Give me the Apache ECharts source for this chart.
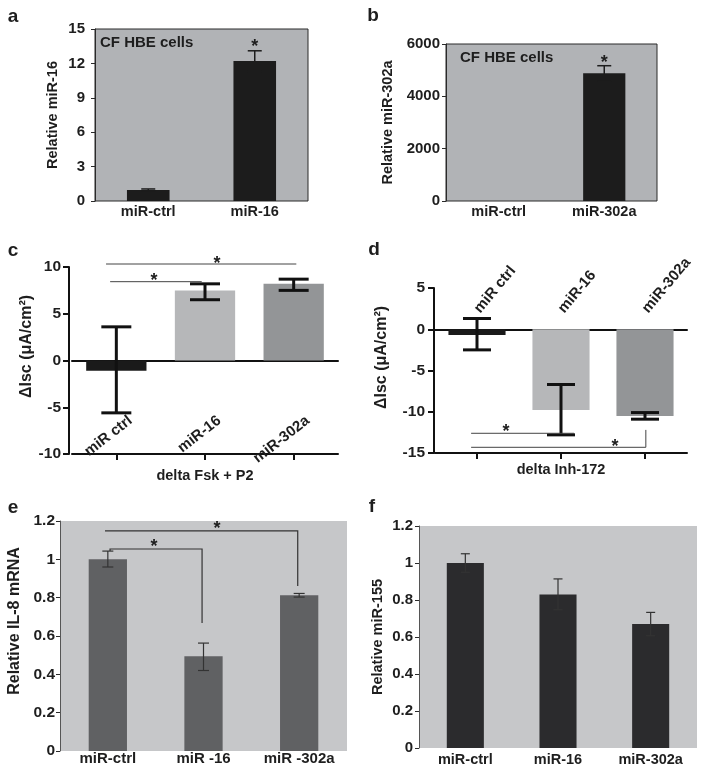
<!DOCTYPE html>
<html><head><meta charset="utf-8">
<script src="https://cdn.jsdelivr.net/npm/echarts@6/dist/echarts.min.js"></script>
<style>html,body{margin:0;padding:0;background:#fff}#chart{width:704px;height:776px}</style>
</head><body><div id="chart"></div>
<script>
// ---------- DATA ----------
// panel a
const aCats = ['miR-ctrl', 'miR-16'];
const aVals = [0.96, 12.2];
const aErrLow = [0.88, 11.3];
const aErrHigh = [1.05, 13.1];
const aStars = [[1, 13.8]];
const aRange = [0, 15, 3];
// panel b
const bCats = ['miR-ctrl', 'miR-302a'];
const bVals = [0, 4880];
const bErrLow = [0, 4590];
const bErrHigh = [0, 5170];
const bStars = [[1, 5430]];
const bRange = [0, 6000, 2000];
// panel c
const cCats = ['miR ctrl', 'miR-16', 'miR-302a'];
const cVals = [-1.1, 7.5, 8.2];
const cErrLow = [-5.6, 6.5, 7.5];
const cErrHigh = [3.6, 8.2, 8.7];
const cBrackets = [[-0.116, 2.03, 10.32, 10.32, 10.32], [-0.07, 0.963, 8.43, 8.43, 8.43]];
const cStars = [[1.136, 10.75], [0.425, 8.93]];
const cRange = [-10, 10, 5];
// panel d
const dCats = ['miR ctrl', 'miR-16', 'miR-302a'];
const dVals = [-0.7, -9.8, -10.5];
const dErrLow = [-2.5, -12.8, -10.9];
const dErrHigh = [1.3, -6.7, -10.1];
const dBrackets = [[-0.07, 1.155, -12.61, -12.61, -12.61], [-0.07, 2.01, -14.31, -14.31, -12.2]];
const dStars = [[0.345, -11.97], [1.643, -13.75]];
const dRange = [-15, 5, 5];
// panel e
const eCats = ['miR-ctrl', 'miR -16', 'miR -302a'];
const eVals = [1.0, 0.494, 0.812];
const eErrLow = [0.96, 0.42, 0.803];
const eErrHigh = [1.043, 0.563, 0.822];
const eBrackets = [[0.023, 0.985, 1.054, 1.043, 0.668], [-0.03, 1.985, 1.149, 1.149, 0.861]];
const eStars = [[0.483, 1.087], [1.14, 1.179]];
const eRange = [0, 1.2, 0.2];
// panel f
const fCats = ['miR-ctrl', 'miR-16', 'miR-302a'];
const fVals = [1.0, 0.83, 0.67];
const fErrLow = [0.95, 0.747, 0.607];
const fErrHigh = [1.05, 0.914, 0.733];
const fRange = [0, 1.2, 0.2];

// ---------- STYLE ----------
const FONT = '"Liberation Sans", Arial, sans-serif';
const TXT = '#1e1e1e';
const chart = echarts.init(document.getElementById('chart'), null, {renderer: 'canvas'});

function errRender(capW, lw, color) {
  return function (params, api) {
    const x = api.value(0), lo = api.value(1), hi = api.value(2);
    if (hi === lo) return null;
    const pH = api.coord([x, hi]), pL = api.coord([x, lo]);
    const h = capW / 2;
    const st = {stroke: color, lineWidth: lw};
    return {type: 'group', children: [
      {type: 'line', shape: {x1: pH[0], y1: pH[1], x2: pL[0], y2: pL[1]}, style: st},
      {type: 'line', shape: {x1: pH[0] - h, y1: pH[1], x2: pH[0] + h, y2: pH[1]}, style: st},
      {type: 'line', shape: {x1: pL[0] - h, y1: pL[1], x2: pL[0] + h, y2: pL[1]}, style: st}
    ]};
  };
}
function bracketRender(color, lw) {
  return function (params, api) {
    const x1 = api.value(0), x2 = api.value(1), y = api.value(2), d1 = api.value(3), d2 = api.value(4);
    const pts = [api.coord([x1, d1]), api.coord([x1, y]), api.coord([x2, y]), api.coord([x2, d2])];
    return {type: 'polyline', shape: {points: pts}, style: {stroke: color, lineWidth: lw, fill: 'none'}};
  };
}
function starRender(fs) {
  return function (params, api) {
    const p = api.coord([api.value(0), api.value(1)]);
    return {type: 'text', x: p[0], y: p[1] + fs * 0.22,
      style: {text: '*', fontSize: fs, fontWeight: 'bold', fontFamily: FONT, fill: TXT, align: 'center', verticalAlign: 'middle'}};
  };
}
function errData(lo, hi) { return lo.map((v, i) => [i, v, hi[i]]); }

const grayBoxA = {show: true, backgroundColor: '#b1b3b6', borderColor: '#2a2a2a', borderWidth: 1};
const grayBoxE = {show: true, backgroundColor: '#c6c7c9', borderWidth: 0};
const grids = [
  Object.assign({left: 95, top: 29, width: 213, height: 172}, grayBoxA),
  Object.assign({left: 446, top: 44, width: 211, height: 157}, grayBoxA),
  {left: 72, top: 267, width: 266, height: 187},
  {left: 435, top: 288, width: 252, height: 165},
  Object.assign({left: 60, top: 521, width: 287, height: 230}, grayBoxE),
  Object.assign({left: 419, top: 526, width: 278, height: 222}, grayBoxE)
].map(g => Object.assign({outerBoundsMode: 'none', containLabel: false}, g));

const lblFont = (fs) => ({fontSize: fs, fontWeight: 'bold', fontFamily: FONT, color: TXT});

function catAxisSimple(grid, cats, margin, fs) {
  return {type: 'category', gridIndex: grid, data: cats, axisLine: {show: false}, axisTick: {show: false},
    axisLabel: Object.assign({margin: margin, interval: 0}, lblFont(fs))};
}
function hiddenX(grid, n) {
  return {type: 'value', gridIndex: grid, min: -0.5, max: n - 0.5, show: false};
}
function valAxis(grid, rng, name, nameGap, nameFs, lblFs, lblMargin, opts, namePad) {
  return Object.assign({
    type: 'value', gridIndex: grid, min: rng[0], max: rng[1], interval: rng[2],
    axisLine: {show: true, onZero: false, lineStyle: {color: '#2a2a2a', width: 1}},
    axisTick: {show: true, length: 4, lineStyle: {color: '#2a2a2a', width: 1}},
    splitLine: {show: false},
    axisLabel: Object.assign({margin: lblMargin, formatter: (v) => String(v)}, lblFont(lblFs)),
    name: name, nameLocation: 'middle', nameGap: nameGap,
    nameTextStyle: Object.assign({padding: [0, 0, 0, namePad || 0]}, lblFont(nameFs))
  }, opts || {});
}

const xAxes = [
  catAxisSimple(0, aCats, 3, 14.5),               // 0
  catAxisSimple(1, bCats, 3, 14.5),               // 1
  { // 2 c bottom
    type: 'category', gridIndex: 2, data: cCats, position: 'bottom',
    axisLine: {onZero: false, lineStyle: {color: '#111', width: 2}},
    axisTick: {show: true, alignWithLabel: true, length: 6, lineStyle: {color: '#111', width: 2}},
    axisLabel: Object.assign({inside: true, rotate: 38, align: 'right', verticalAlign: 'middle', margin: 24,
      padding: [0, -18, 0, 0], interval: 0}, lblFont(15)),
    name: 'delta Fsk + P2', nameLocation: 'middle', nameGap: 9, nameTextStyle: lblFont(14.5)
  },
  { // 3 c zero line
    type: 'category', gridIndex: 2, data: cCats, position: 'top',
    axisLine: {onZero: true, lineStyle: {color: '#111', width: 2}},
    axisTick: {show: false}, axisLabel: {show: false}
  },
  { // 4 d bottom, labels drawn inside above the zero line
    type: 'category', gridIndex: 3, data: dCats, position: 'bottom',
    axisLine: {onZero: false, lineStyle: {color: '#111', width: 2}},
    axisTick: {show: true, alignWithLabel: true, length: 6, lineStyle: {color: '#111', width: 2}},
    axisLabel: Object.assign({inside: true, rotate: 50, align: 'left', verticalAlign: 'middle', margin: 142, interval: 0}, lblFont(15)),
    name: 'delta Inh-172', nameLocation: 'middle', nameGap: 9, nameTextStyle: lblFont(14.5)
  },
  { // 5 d zero line
    type: 'category', gridIndex: 3, data: dCats, position: 'top',
    axisLine: {onZero: true, lineStyle: {color: '#111', width: 2}},
    axisTick: {show: false}, axisLabel: {show: false}
  },
  catAxisSimple(4, eCats, 0, 15),                 // 6
  catAxisSimple(5, fCats, 4, 14.5),               // 7
  hiddenX(0, 2), hiddenX(1, 2), hiddenX(2, 3), hiddenX(3, 3), hiddenX(4, 3) // 8..12
];

const yAxes = [
  valAxis(0, aRange, 'Relative miR-16', 35, 14.5, 15, 10),
  valAxis(1, bRange, 'Relative miR-302a', 51, 14.5, 15, 6),
  valAxis(2, cRange, 'ΔIsc (μA/cm²)', 31, 16, 15.5, 8, {offset: 3,
    axisLine: {show: true, onZero: false, lineStyle: {color: '#111', width: 2}},
    axisTick: {show: true, length: 6, lineStyle: {color: '#111', width: 2}}}, 28),
  valAxis(3, dRange, 'ΔIsc (μA/cm²)', 44, 16, 15.5, 9, {offset: 1,
    axisLine: {show: true, onZero: false, lineStyle: {color: '#111', width: 2}},
    axisTick: {show: true, length: 6, lineStyle: {color: '#111', width: 2}}}, 26),
  valAxis(4, eRange, 'Relative IL-8 mRNA', 37, 16, 15.5, 5, {
    axisLine: {show: true, onZero: false, lineStyle: {color: '#555', width: 1}}}, 30),
  valAxis(5, fRange, 'Relative miR-155', 34, 14.5, 15, 6, {
    axisLine: {show: true, onZero: false, lineStyle: {color: '#555', width: 1}}})
];

const cColors = ['#1a1a1a', '#b6b7b9', '#939597'];
const dColors = ['#1a1a1a', '#b6b7b9', '#939597'];

function bar(xi, yi, vals, width, color, colors) {
  return {type: 'bar', xAxisIndex: xi, yAxisIndex: yi, barWidth: width, animation: false,
    data: vals.map((v, i) => ({value: v, itemStyle: {color: colors ? colors[i] : color}}))};
}
function err(xi, yi, lo, hi, capW, lw, color) {
  return {type: 'custom', xAxisIndex: xi, yAxisIndex: yi, clip: false, animation: false, z: 5,
    renderItem: errRender(capW, lw, color), data: errData(lo, hi), encode: {x: 0, y: [1, 2]}};
}
function brackets(xi, yi, data, color, lw) {
  return {type: 'custom', xAxisIndex: xi, yAxisIndex: yi, clip: false, animation: false, z: 6,
    renderItem: bracketRender(color, lw), data: data, encode: {x: [0, 1], y: 2}};
}
function stars(xi, yi, data, fs) {
  return {type: 'custom', xAxisIndex: xi, yAxisIndex: yi, clip: false, animation: false, z: 7,
    renderItem: starRender(fs), data: data, encode: {x: 0, y: 1}};
}

const series = [
  bar(0, 0, aVals, '40%', '#1c1c1c'),
  err(0, 0, aErrLow, aErrHigh, 14, 1.5, '#1c1c1c'),
  stars(8, 0, aStars, 18),
  bar(1, 1, bVals, '40%', '#1c1c1c'),
  err(1, 1, bErrLow, bErrHigh, 14, 1.5, '#1c1c1c'),
  stars(9, 1, bStars, 18),
  bar(2, 2, cVals, '68%', null, cColors),
  err(2, 2, cErrLow, cErrHigh, 30, 3, '#111'),
  brackets(10, 2, cBrackets, '#444', 1),
  stars(10, 2, cStars, 18),
  bar(4, 3, dVals, '68%', null, dColors),
  err(4, 3, dErrLow, dErrHigh, 28, 3, '#111'),
  brackets(11, 3, dBrackets, '#444', 1),
  stars(11, 3, dStars, 18),
  bar(6, 4, eVals, '40%', '#606163'),
  err(6, 4, eErrLow, eErrHigh, 11, 1.2, '#333'),
  brackets(12, 4, eBrackets, '#333', 1.2),
  stars(12, 4, eStars, 18),
  bar(7, 5, fVals, '40%', '#2b2b2d'),
  err(7, 5, fErrLow, fErrHigh, 9, 1.2, '#333')
];

function letter(t, x, y) {
  return {type: 'text', x: x, y: y, style: {text: t, fontSize: 19, fontWeight: 'bold', fontFamily: FONT, fill: TXT, align: 'center', verticalAlign: 'middle'}};
}
function note(t, x, y) {
  return {type: 'text', x: x, y: y, style: {text: t, fontSize: 15, fontWeight: 'bold', fontFamily: FONT, fill: TXT, align: 'left', verticalAlign: 'middle'}};
}

chart.setOption({
  animation: false,
  backgroundColor: '#ffffff',
  textStyle: {fontFamily: FONT},
  grid: grids,
  xAxis: xAxes,
  yAxis: yAxes,
  series: series,
  graphic: [
    letter('a', 13, 17), letter('b', 373, 16), letter('c', 13, 251),
    letter('d', 374, 250), letter('e', 13, 508), letter('f', 372, 507),
    note('CF HBE cells', 100, 43), note('CF HBE cells', 460, 58)
  ]
});
</script></body></html>
